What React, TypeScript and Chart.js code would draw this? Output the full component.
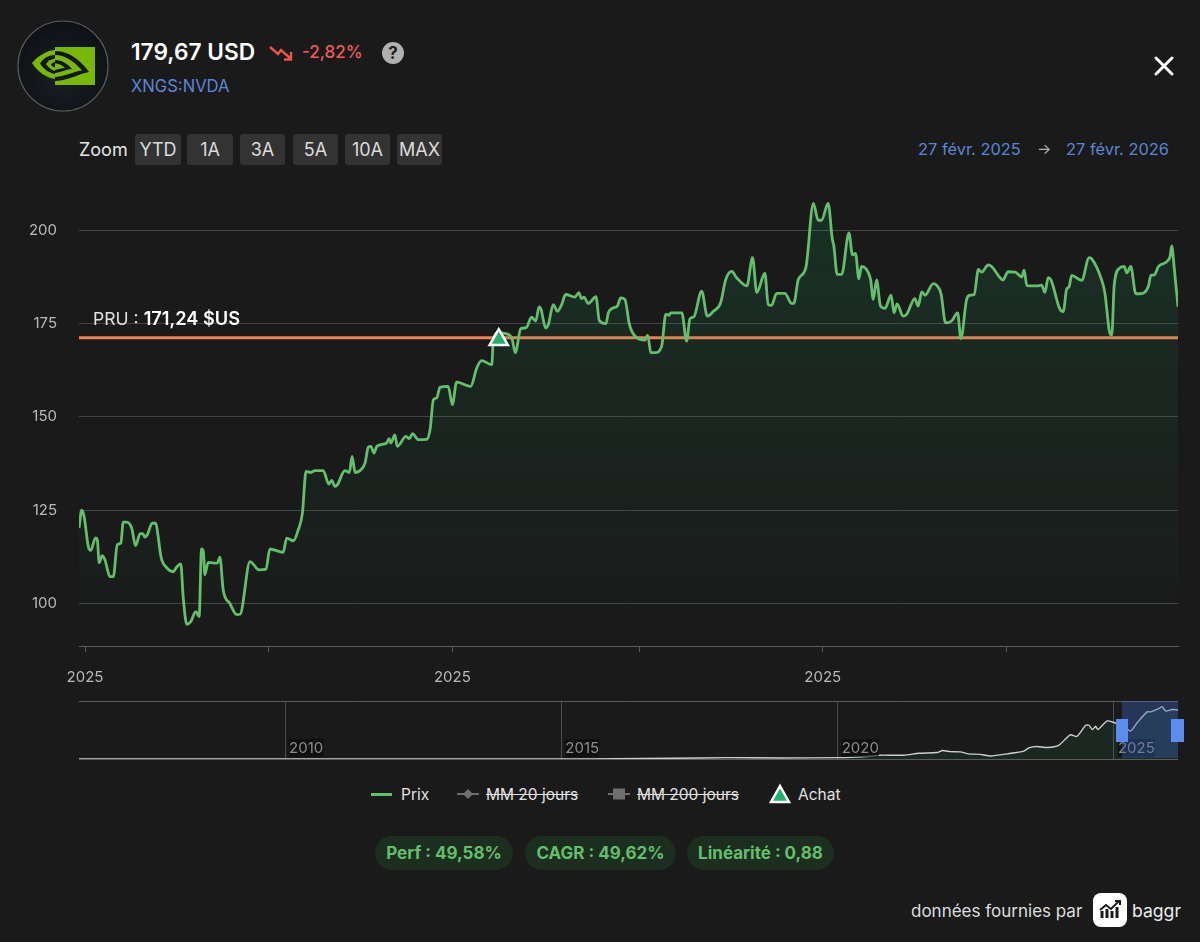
import { useEffect, useRef, type CSSProperties } from "react";
import { Chart, registerables, type ChartConfiguration, type Plugin } from "chart.js";

Chart.register(...registerables);

// Jours écoulés depuis le 27 févr. 2025
const priceDays = [
  0, 0.9, 1.7, 3.1, 3.9, 5.5, 6.1, 6.7, 7.7, 8.6, 10.3, 11.4, 12.7, 13.9, 14.7, 15.8, 17.5, 18.8, 20.3, 21.2,
  21.9, 22.7, 24.3, 25.5, 26.3, 27.2, 29.1, 31.3, 32.4, 33.8, 34.6, 35.8, 37.1, 38.8, 39.9, 40.7, 41.3, 41.8, 42.9, 45.9,
  46.8, 47.9, 50.1, 52.4, 53.5, 56.8, 59.8, 62.1, 63.4, 67.8, 69, 71.2, 72.8, 74.2,
  75.4, 76.9, 78.4, 81.1, 83, 83.9, 85, 85.8, 88.3, 89.8, 90.7, 91.7, 93.3, 95, 96.1, 96.9, 98, 98.9, 102.2, 103,
  103.6, 104.9, 105.7, 108.6, 109.7, 110.8, 112.7, 115.5, 116.6, 117.7, 118.8, 119.9, 122.6, 124, 125.4, 130.1, 132.1, 133.7, 137.1, 137.6,
  139.1, 143.1, 143.9, 144.9, 146.7, 148.5, 150.3, 151.7, 152.8, 153.4, 155, 155.9, 157.5, 158.9, 160.3, 161.6, 164.7, 166, 166.9, 167.7,
  169.1, 171.7, 172.8, 175, 175.8, 177.4, 178.8, 179.9, 181.3, 182.8, 184.7, 188, 188.9, 189.9, 191.3, 193.5, 194.9, 196, 196.5, 200.2,
  201.8, 202.9, 204.2, 206.8, 208.7, 210.7, 213.1, 214.8, 216.8, 218.4, 221.8, 223.7, 225.1, 227.8, 228.9, 230, 231.7, 234.4, 236.7, 237.4,
  238.9, 241.4, 243.9, 245.5, 246.6, 248.8, 250.2, 250.7, 251.8, 253.3, 255.7, 256.9, 257.9, 259, 259.9, 261, 262.9, 263.8, 264.9, 266.2,
  267.7, 269.7, 270.7, 271.7, 273.7, 274.9, 277.6, 278.7, 279.9, 281, 283.7, 284.8, 286.3, 287.8, 289.8, 291.8, 292.9, 294.8, 295.9, 297.3,
  298.7, 299.8, 302, 303.1, 305.5, 306.8, 308.6, 310.9, 313.1, 313.9, 314.8, 318.1, 319.7, 320.8, 321.9, 322.8, 325.8, 326.9, 328, 328.8,
  329.7, 333, 335.5, 336.3, 339.6, 340.7, 342.2, 343, 343.8, 345.5, 347.1, 348, 349.3, 351, 352.4, 355.2, 356, 357.1, 358.5, 361.3,
  362.4, 362.9, 363.8, 365,
];
const priceValues = [
  120.2, 125, 123.3, 115.2, 114.2, 117.6, 117, 110.9, 112.8, 111.7, 107.2, 107.2, 115.7, 116.2, 121.8, 121.8, 120.2, 115.5, 118.7, 118.7,
  117.8, 118.4, 121.5, 121.5, 117.9, 112.6, 109.6, 108.5, 109.7, 110.6, 101.8, 94.4, 95.1, 97.8, 96.5, 114.6, 113.9, 107.7, 111, 110.8,
  112.4, 103.6, 100, 97, 97.1, 111.2, 109, 109.2, 114.6, 113.7, 117.5, 116.8, 119.7, 124.2,
  135.4, 135.1, 135.6, 135.6, 132, 133, 131.4, 131.8, 135.6, 135.1, 139.4, 135.1, 135.6, 137.6, 141.9, 142.1, 140.3, 142.1, 143, 144.2,
  143, 145.2, 142.1, 144.8, 144.2, 145.5, 143.9, 144, 146.6, 154.6, 155.1, 157.9, 158.2, 153.3, 159.3, 158.2, 163.1, 165.1, 164, 170.7,
  172.5, 171.9, 170.7, 167.2, 173.6, 173.9, 176.7, 175.7, 179.5, 179, 173.8, 174.8, 180.1, 178.3, 180.1, 182.8, 182.1, 183.3, 181.7, 182.1,
  180.4, 182.2, 175.8, 175, 177.9, 179.2, 179.7, 181.9, 181.5, 174.8, 171.6, 170.6, 171.9, 167.2, 167.2, 168.9, 177.5, 177.2, 177.9, 177.9,
  170.3, 176.3, 176.8, 183.7, 177, 178.3, 180.6, 186.8, 189, 187.3, 185.1, 192.7, 183.3, 188.5, 180.1, 179.9, 183.1, 183.1, 180.4, 180.4,
  186.8, 190, 207.2, 202.7, 202.7, 207.2, 197.6, 195.8, 188.2, 188.2, 199.3, 193.4, 193.8, 187, 190.3, 190, 186.8, 181.5, 186.7, 179.7,
  179.1, 182.6, 177.9, 180.3, 177, 177.5, 181.7, 179.7, 183.5, 182.6, 185.7, 185.3, 183, 175.2, 175.7, 177.9, 171, 181.5, 182.6, 182.8,
  189.5, 188.8, 190.7, 190.3, 187.7, 186.7, 188.9, 188.8, 187.5, 189.3, 185.2, 185.1, 185.3, 183.4, 187.3, 186.7, 178.8, 178.2, 184.2, 184.8,
  187.9, 186.6, 192.7, 192.4, 186.8, 183.3, 173, 171.9, 185.1, 189.8, 190.3, 188.6, 190.3, 183, 183, 185.1, 188, 188, 190.3, 191.6,
  193.1, 195.8, 189.5, 179.5,
];

const pruValue = 171.24;
const buyDay = 139.4;
const buyPrice = 170.7;

const yTicks = [100, 125, 150, 175, 200];
const xTickDays = [2, 63, 124, 186, 247, 308];
const xTickLabels = ["2025", "", "2025", "", "2025", ""];

// Navigateur : historique complet
const historyYears = [
  2006.27, 2008, 2010, 2013, 2015, 2016, 2017, 2018, 2018.96, 2019.99, 2020.23, 2020.65, 2020.77, 2021.2, 2021.47, 2021.8, 2021.9,
  2022.04, 2022.22, 2022.37, 2022.58, 2022.77, 2023.07, 2023.37, 2023.46, 2023.61, 2023.79, 2024, 2024.21, 2024.33, 2024.49,
  2024.55, 2024.61, 2024.67, 2024.71, 2024.88, 2025.03, 2025.12, 2025.3, 2025.42, 2025.6, 2025.66, 2025.82, 2025.87, 2025.94, 2026.06, 2026.16,
];
const historyPrices = [
  0.5, 0.5, 0.4, 0.4, 0.5, 0.8, 2.5, 5, 3.7, 5, 6, 11, 14, 14, 21, 24, 31,
  27, 26, 19, 17, 11, 19, 29, 41, 46, 42, 50, 89, 83, 124,
  124, 108, 120, 108, 140, 132, 130, 103, 133, 173, 173, 186, 192, 176, 182, 180,
];
const historyTicks = [2010, 2015, 2020, 2025];

const zoomButtons = ["YTD", "1A", "3A", "5A", "10A", "MAX"];
const statPills = ["Perf : 49,58%", "CAGR : 49,62%", "Linéarité : 0,88"];

const FONT = "Inter, 'Noto Sans', sans-serif";
const GREEN = "#63bf6b";
const BLUE = "#5b86d6";

function PriceChart() {
  const canvasRef = useRef<HTMLCanvasElement>(null);

  useEffect(() => {
    if (!canvasRef.current) return;
    const cfg: ChartConfiguration<"line"> = {
      type: "line",
      data: {
        datasets: [
          {
            label: "Achat",
            data: [{ x: buyDay, y: buyPrice }],
            showLine: false,
            order: 0,
            pointStyle: "triangle",
            pointRadius: 10.5,
            pointBackgroundColor: "#1fb268",
            pointBorderColor: "#ffffff",
            pointBorderWidth: 2.5,
          },
          {
            label: "Prix",
            data: priceDays.map((d, i) => ({ x: d, y: priceValues[i] })),
            order: 1,
            borderColor: GREEN,
            borderWidth: 2.8,
            pointRadius: 0,
            cubicInterpolationMode: "monotone",
            fill: "start",
            backgroundColor: (ctx) => {
              const area = ctx.chart.chartArea;
              if (!area) return "transparent";
              const g = ctx.chart.ctx.createLinearGradient(0, area.top, 0, area.bottom);
              g.addColorStop(0, "rgba(30,190,110,0.14)");
              g.addColorStop(1, "rgba(30,190,110,0)");
              return g;
            },
          },
          {
            label: "PRU",
            data: [
              { x: 0, y: pruValue },
              { x: 365, y: pruValue },
            ],
            order: 2,
            borderColor: "#f07f4e",
            borderWidth: 3,
            pointRadius: 0,
          },
        ],
      },
      options: {
        animation: false,
        responsive: false,
        layout: { padding: { top: 10, right: 22, left: 0, bottom: 0 } },
        scales: {
          x: {
            type: "linear",
            min: 0,
            max: 365,
            afterBuildTicks: (scale) => {
              scale.ticks = xTickDays.map((v) => ({ value: v }));
            },
            afterFit: (scale) => {
              scale.height = 54;
            },
            border: { color: "#5a5a5a" },
            grid: { drawOnChartArea: false, tickLength: 6, color: "#5a5a5a" },
            ticks: {
              autoSkip: false,
              maxRotation: 0,
              padding: 16,
              color: "#b9b9b9",
              font: { family: FONT, size: 15 },
              callback: (_v, i) => xTickLabels[i],
            },
          },
          y: {
            min: 88.6,
            max: 210,
            afterBuildTicks: (scale) => {
              scale.ticks = yTicks.map((v) => ({ value: v }));
            },
            afterFit: (scale) => {
              // pas de marge automatique en haut et en bas du tracé
              scale.width = 79;
              scale.paddingTop = 0;
              scale.paddingBottom = 0;
            },
            border: { display: false },
            grid: { drawTicks: false, color: "#434343" },
            ticks: {
              padding: 22,
              color: "#b9b9b9",
              font: { family: FONT, size: 15 },
            },
          },
        },
        plugins: { legend: { display: false }, tooltip: { enabled: false } },
      },
    };
    const chart = new Chart(canvasRef.current, cfg);
    return () => chart.destroy();
  }, []);

  return <canvas ref={canvasRef} width={1200} height={520} style={{ position: "absolute", left: 0, top: 180 }} />;
}

// Années écrites à l'intérieur du navigateur, à droite de chaque repère
const yearLabels: Plugin<"line"> = {
  id: "yearLabels",
  afterDraw(chart) {
    const { ctx, scales, chartArea } = chart;
    ctx.save();
    ctx.font = `15px ${FONT}`;
    ctx.textBaseline = "middle";
    historyTicks.forEach((year) => {
      const x = scales.x.getPixelForValue(year) + 4;
      const y = chartArea.bottom - 11;
      const w = ctx.measureText(String(year)).width;
      ctx.fillStyle = "rgba(10,10,10,0.6)";
      ctx.fillRect(x, y - 9, w, 18);
      ctx.fillStyle = "#8d8d8d";
      ctx.fillText(String(year), x, y);
    });
    ctx.restore();
  },
};

function HistoryChart() {
  const canvasRef = useRef<HTMLCanvasElement>(null);

  useEffect(() => {
    if (!canvasRef.current) return;
    const cfg: ChartConfiguration<"line"> = {
      type: "line",
      data: {
        datasets: [
          {
            data: historyYears.map((y, i) => ({ x: y, y: historyPrices[i] })),
            borderColor: "#cfcfcf",
            borderWidth: 1.4,
            pointRadius: 0,
            tension: 0.2,
            fill: "start",
            backgroundColor: "rgba(30,190,110,0.09)",
          },
        ],
      },
      options: {
        animation: false,
        responsive: false,
        layout: { padding: { top: 1, bottom: 1 } },
        scales: {
          x: {
            type: "linear",
            min: 2006.27,
            max: 2026.16,
            afterBuildTicks: (scale) => {
              scale.ticks = historyTicks.map((v) => ({ value: v }));
            },
            afterFit: (scale) => {
              scale.height = 0;
            },
            border: { display: false },
            grid: { drawTicks: false, color: "#4c4c4c" },
            ticks: { display: false },
          },
          y: {
            min: 0,
            max: 213,
            afterBuildTicks: (scale) => {
              scale.ticks = [{ value: 0 }, { value: 213 }];
            },
            afterFit: (scale) => {
              scale.width = 0;
            },
            border: { display: false },
            grid: { drawTicks: false, color: "#5c5c5c" },
            ticks: { display: false },
          },
        },
        plugins: { legend: { display: false }, tooltip: { enabled: false } },
      },
      plugins: [yearLabels],
    };
    const chart = new Chart(canvasRef.current, cfg);
    return () => chart.destroy();
  }, []);

  return <canvas ref={canvasRef} width={1099} height={60} style={{ position: "absolute", left: 79, top: 700 }} />;
}

function abs(left: number, top: number, extra: CSSProperties = {}): CSSProperties {
  return { position: "absolute", left, top, whiteSpace: "nowrap", lineHeight: 1, ...extra };
}

function Logo() {
  const green = "#76b900";
  const dark = "#12151a";
  return (
    <svg width={94} height={94} viewBox="16 19 94 94" style={{ position: "absolute", left: 16, top: 19 }}>
      <defs>
        <radialGradient id="logoBg" cx="0.5" cy="0.6" r="0.6">
          <stop offset="0" stopColor="#1a2026" />
          <stop offset="1" stopColor="#0e1014" />
        </radialGradient>
      </defs>
      <circle cx={63} cy={66} r={45} fill="url(#logoBg)" stroke="#5a5a5a" strokeWidth={1.2} />
      <rect x={55} y={47} width={40} height={38} fill={green} />
      <path d="M55 51 C70 51 82 62 89 72 C78 74 70 80 55 81 Z" fill={dark} />
      <path d="M55 55 C66 55 76 63 82 70.5 C74 71.5 66 76 55 77 Z" fill={green} />
      <path d="M55 60 C62 60 68 64 72 69 C67 69 62 72 55 73 Z" fill={dark} />
      <path d="M55 63.5 C60 63.5 63 66 65 68 C62 68 59 69 55 70 Z" fill={green} />
      <path d="M55 50 C45 51 37 57 32 63 C37 71 46 78 55 79 Z" fill={green} />
      <path d="M55 55 C48 55 43 59 40 63.5 C43 68 48 73 55 74 Z" fill={dark} />
      <path d="M55 58.5 C51 59 48 61 46 64 C48 67 51 70 55 71 Z" fill={green} />
      <path d="M55 62 C53 62 52 63 51 65 C52 66 53 67 55 67.5 Z" fill={dark} />
    </svg>
  );
}

function Legend() {
  const text: CSSProperties = { fontSize: 15.5, color: "#e2e2e2" };
  const struck: CSSProperties = { ...text, textDecoration: "line-through" };
  return (
    <>
      <div style={abs(371, 793, { width: 21, height: 2.5, background: GREEN })} />
      <div style={abs(401, 787, text)}>Prix</div>
      <svg width={24} height={14} style={abs(456, 787)}>
        <line x1={1} x2={23} y1={7} y2={7} stroke="#6e6e6e" strokeWidth={2} />
        <path d="M12 2 L17 7 L12 12 L7 7 Z" fill="#6e6e6e" />
      </svg>
      <div style={abs(486, 787, struck)}>MM 20 jours</div>
      <svg width={24} height={14} style={abs(607, 787)}>
        <line x1={1} x2={23} y1={7} y2={7} stroke="#6e6e6e" strokeWidth={2} />
        <rect x={6} y={1.5} width={12} height={11} fill="#6e6e6e" />
      </svg>
      <div style={abs(637, 787, struck)}>MM 200 jours</div>
      <svg width={22} height={22} style={abs(769, 783)}>
        <path d="M11 3 L20 19 L2 19 Z" fill="#1fb268" stroke="#fff" strokeWidth={2.5} />
      </svg>
      <div style={abs(798, 787, text)}>Achat</div>
    </>
  );
}

export default function App() {
  useEffect(() => {
    document.body.style.margin = "0";
  }, []);

  const pillPositions = [
    { left: 375, width: 138 },
    { left: 525, width: 151 },
    { left: 687, width: 147 },
  ];
  const buttonPositions = [
    { left: 135, width: 46 },
    { left: 187, width: 46 },
    { left: 240, width: 45 },
    { left: 293, width: 45 },
    { left: 345, width: 45 },
    { left: 397, width: 45 },
  ];

  return (
    <div
      style={{
        position: "relative",
        width: 1200,
        height: 942,
        overflow: "hidden",
        background: "#1a1a1a",
        fontFamily: FONT,
      }}
    >
      <Logo />
      <div style={abs(131, 41, { fontSize: 22.7, fontWeight: 600, color: "#ffffff" })}>179,67 USD</div>
      <svg width={26} height={18} style={abs(269, 44)}>
        <path d="M1 3 L9 10 L12 6 L22 15 M22 8 L22 15.5 L15 15.5" fill="none" stroke="#ef5350" strokeWidth={2.4} />
      </svg>
      <div style={abs(302, 44, { fontSize: 17, fontWeight: 500, color: "#f05a5a" })}>-2,82%</div>
      <div
        style={abs(382, 42, {
          width: 22,
          height: 22,
          borderRadius: 11,
          background: "#b0b0b0",
          color: "#222",
          fontSize: 17,
          fontWeight: 700,
          textAlign: "center",
          lineHeight: "22px",
        })}
      >
        ?
      </div>
      <div style={abs(131, 78, { fontSize: 16.6, color: BLUE })}>XNGS:NVDA</div>
      <svg width={22} height={22} style={abs(1153, 55)}>
        <path d="M3 3 L19 19 M19 3 L3 19" stroke="#fff" strokeWidth={3} strokeLinecap="round" />
      </svg>

      <div style={abs(79, 141, { fontSize: 18, color: "#e6e6e6" })}>Zoom</div>
      {zoomButtons.map((b, i) => (
        <div
          key={b}
          style={abs(buttonPositions[i].left, 134, {
            width: buttonPositions[i].width,
            height: 31,
            lineHeight: "31px",
            textAlign: "center",
            background: "#333333",
            borderRadius: 3,
            fontSize: 18,
            color: "#dcdcdc",
          })}
        >
          {b}
        </div>
      ))}
      <div style={abs(918, 141, { fontSize: 16.4, color: BLUE })}>27 févr. 2025</div>
      <div style={abs(1037, 141, { fontSize: 15, color: "#b5b5b5" })}>→</div>
      <div style={abs(1066, 141, { fontSize: 16.4, color: BLUE })}>27 févr. 2026</div>

      <PriceChart />
      <div style={abs(93, 309, { fontSize: 17.6, color: "#e2e2e2" })}>
        PRU : <b style={{ color: "#fff", fontWeight: 600, fontSize: 18.2 }}>171,24 $US</b>
      </div>

      <HistoryChart />
      <div style={abs(1122, 701, { width: 56, height: 57, background: "rgba(58,96,190,0.38)" })} />
      <div style={abs(1116, 719, { width: 12, height: 23, background: "#5b8def" })} />
      <div style={abs(1171, 719, { width: 13, height: 23, background: "#5b8def" })} />

      <Legend />

      {statPills.map((p, i) => (
        <div
          key={p}
          style={abs(pillPositions[i].left, 836, {
            width: pillPositions[i].width,
            height: 34,
            lineHeight: "34px",
            textAlign: "center",
            borderRadius: 17,
            background: "#1c2e1f",
            color: GREEN,
            fontSize: 17,
            fontWeight: 700,
          })}
        >
          {p}
        </div>
      ))}

      <div style={abs(911, 903, { fontSize: 17, color: "#dedede" })}>données fournies par</div>
      <svg width={34} height={34} viewBox="0 0 34 34" style={abs(1093, 893)}>
        <rect width={34} height={34} rx={8} fill="#fff" />
        <path d="M9 25 V18 M14 25 V16 M19 25 V18 M24 25 V14" stroke="#1a1a1a" strokeWidth={3} />
        <path d="M7 17 L13 12 L18 16 L26 8 M22 8 L27 8 L27 12" fill="none" stroke="#1a1a1a" strokeWidth={2} />
      </svg>
      <div style={abs(1132, 902, { fontSize: 17.6, color: "#ececec" })}>baggr</div>
    </div>
  );
}
